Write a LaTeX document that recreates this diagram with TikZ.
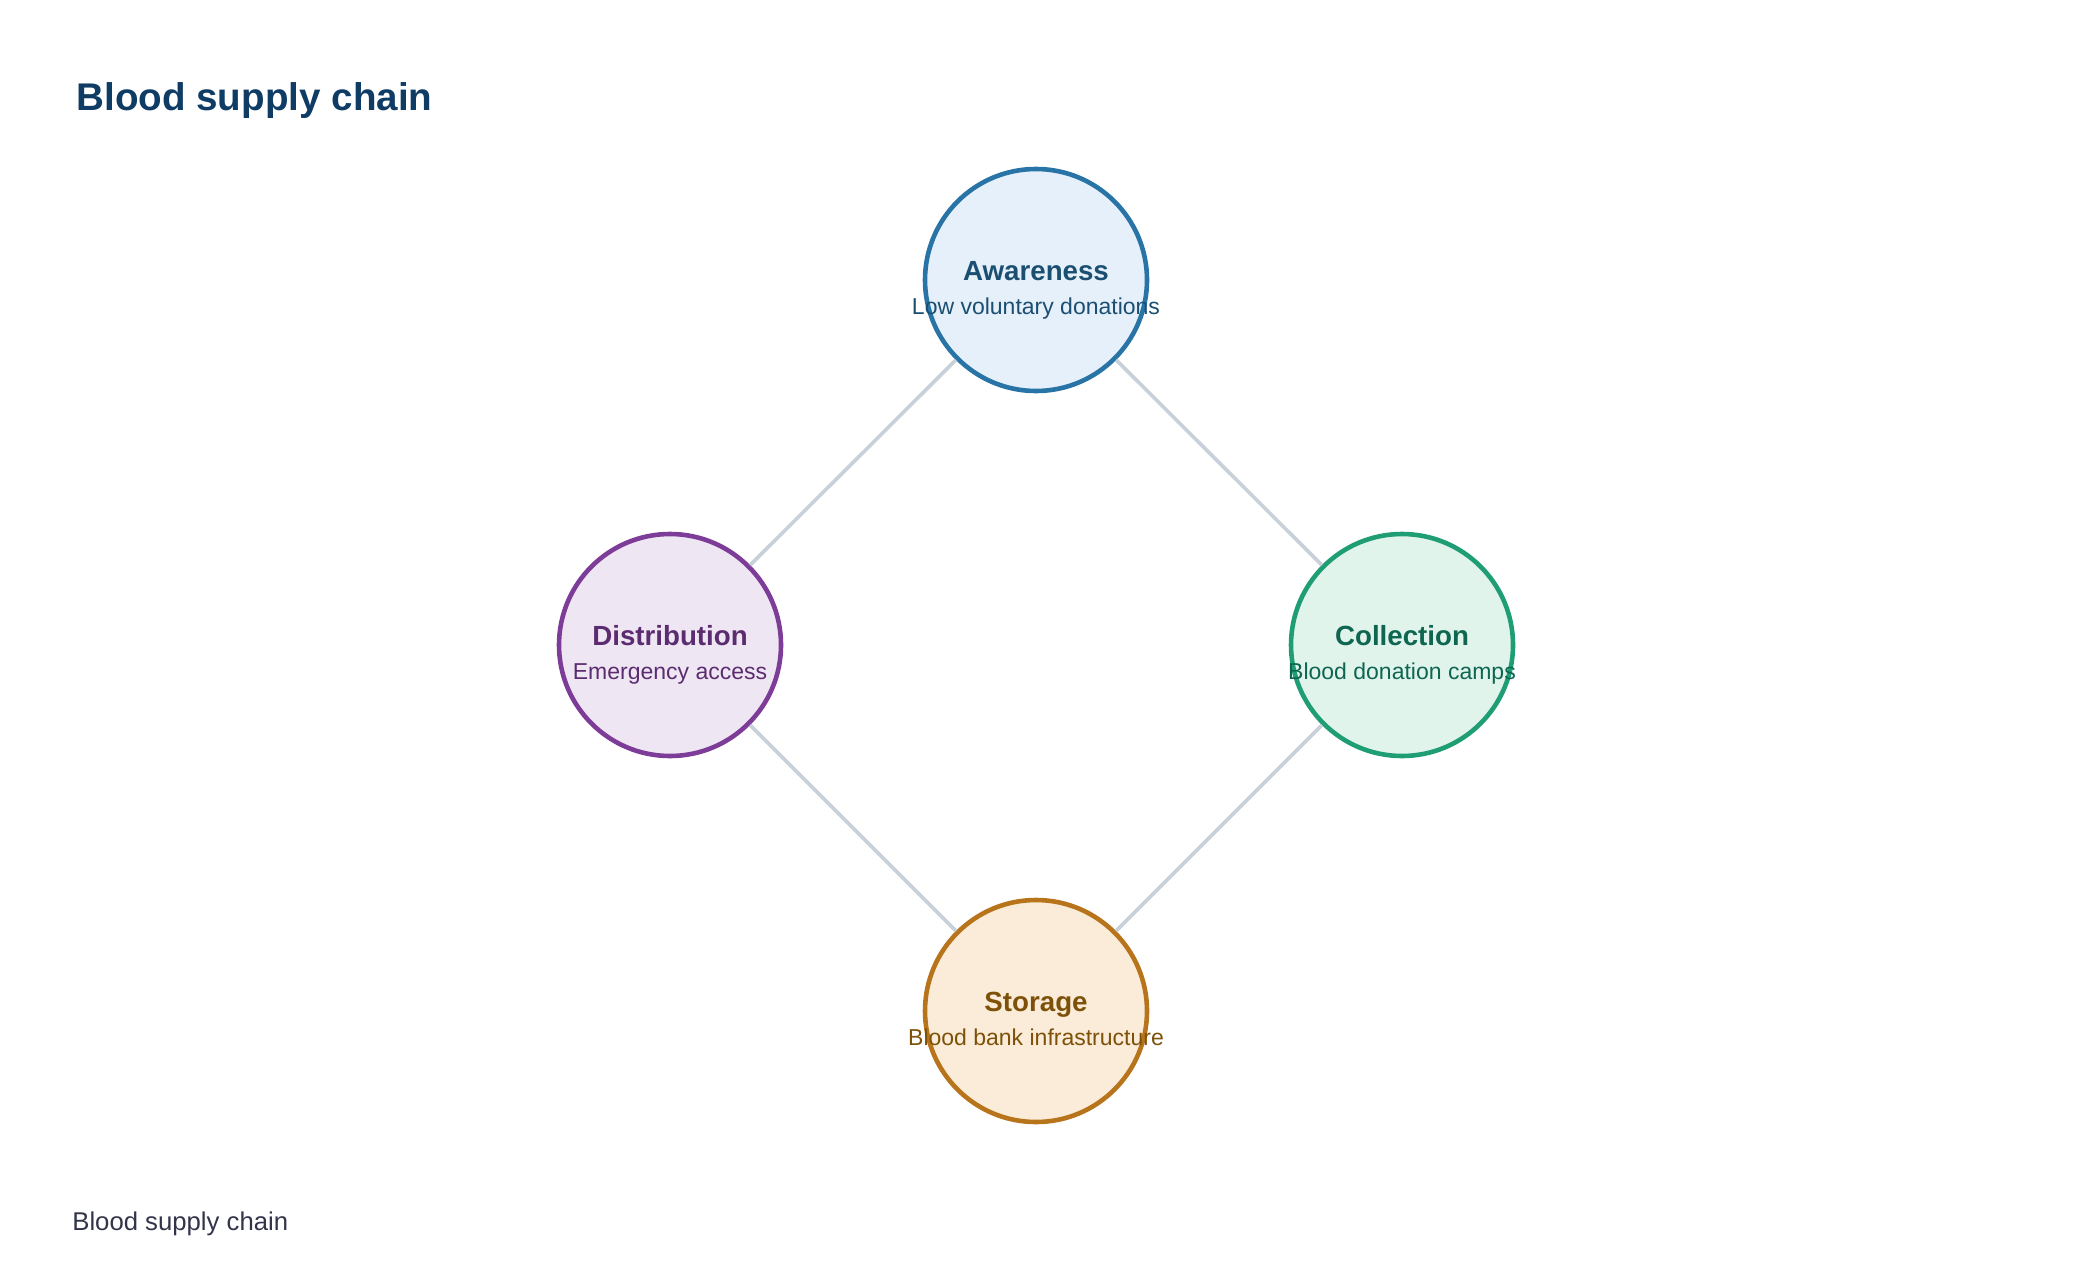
\documentclass[tikz,border=0pt]{standalone}
\usepackage{fontspec}
\setmainfont{Liberation Sans}
\usepackage{tikz}

\definecolor{titleblue}{HTML}{0F3C64}
\definecolor{footgray}{HTML}{33344A}
\definecolor{linkgray}{HTML}{C8D0DA}
\definecolor{awstroke}{HTML}{2874A6}
\definecolor{awfill}{HTML}{E6F0FA}
\definecolor{awtext}{HTML}{1B4F72}
\definecolor{distroke}{HTML}{7D3C98}
\definecolor{difill}{HTML}{EFE6F4}
\definecolor{ditext}{HTML}{5B2C6F}
\definecolor{costroke}{HTML}{1F9D74}
\definecolor{cofill}{HTML}{E1F4EC}
\definecolor{cotext}{HTML}{0E6651}
\definecolor{ststroke}{HTML}{B8741A}
\definecolor{stfill}{HTML}{FAECD8}
\definecolor{sttext}{HTML}{7E5109}

\begin{document}
\begin{tikzpicture}[x=0.5pt, y=-0.5pt,
    stage/.style={draw, circle, line width=2.3pt, minimum size=111pt, inner sep=0pt},
    stagename/.style={anchor=base, inner sep=0pt, font=\fontsize{13.85pt}{16pt}\selectfont\bfseries},
    stagenote/.style={anchor=base, inner sep=0pt, font=\fontsize{11.5pt}{14pt}\selectfont},
    link/.style={draw=linkgray, line width=1.8pt}]
    \useasboundingbox (0, 0) rectangle (2080, 1284);

    \node[anchor=base west, inner sep=0pt, text=titleblue, font=\fontsize{19.3pt}{23pt}\selectfont\bfseries] at (76, 111) (title) {Blood supply chain};
    \node[anchor=base west, inner sep=0pt, text=footgray, font=\fontsize{12.85pt}{15pt}\selectfont] at (72, 1230) (footer) {Blood supply chain};

    % links first, circles on top
    \coordinate (pA) at (1036, 280);
    \coordinate (pD) at (670, 645);
    \coordinate (pC) at (1402, 645);
    \coordinate (pS) at (1036, 1011);

    \node[stage, draw=awstroke, fill=awfill] at (pA) (aware) {};
    \node[stage, draw=distroke, fill=difill] at (pD) (distr) {};
    \node[stage, draw=costroke, fill=cofill] at (pC) (collect) {};
    \node[stage, draw=ststroke, fill=stfill] at (pS) (store) {};

    \draw[link] (aware) -- (collect);
    \draw[link] (collect) -- (store);
    \draw[link] (store) -- (distr);
    \draw[link] (distr) -- (aware);

    \node[stagename, text=awtext] at (1036, 280) (awareT) {Awareness};
    \node[stagenote, text=awtext] at (1036, 314) (awareN) {Low voluntary donations};
    \node[stagename, text=ditext] at (670, 645) (distrT) {Distribution};
    \node[stagenote, text=ditext] at (670, 679) (distrN) {Emergency access};
    \node[stagename, text=cotext] at (1402, 645) (collectT) {Collection};
    \node[stagenote, text=cotext] at (1402, 679) (collectN) {Blood donation camps};
    \node[stagename, text=sttext] at (1036, 1011) (storeT) {Storage};
    \node[stagenote, text=sttext] at (1036, 1045) (storeN) {Blood bank infrastructure};
\end{tikzpicture}
\end{document}
